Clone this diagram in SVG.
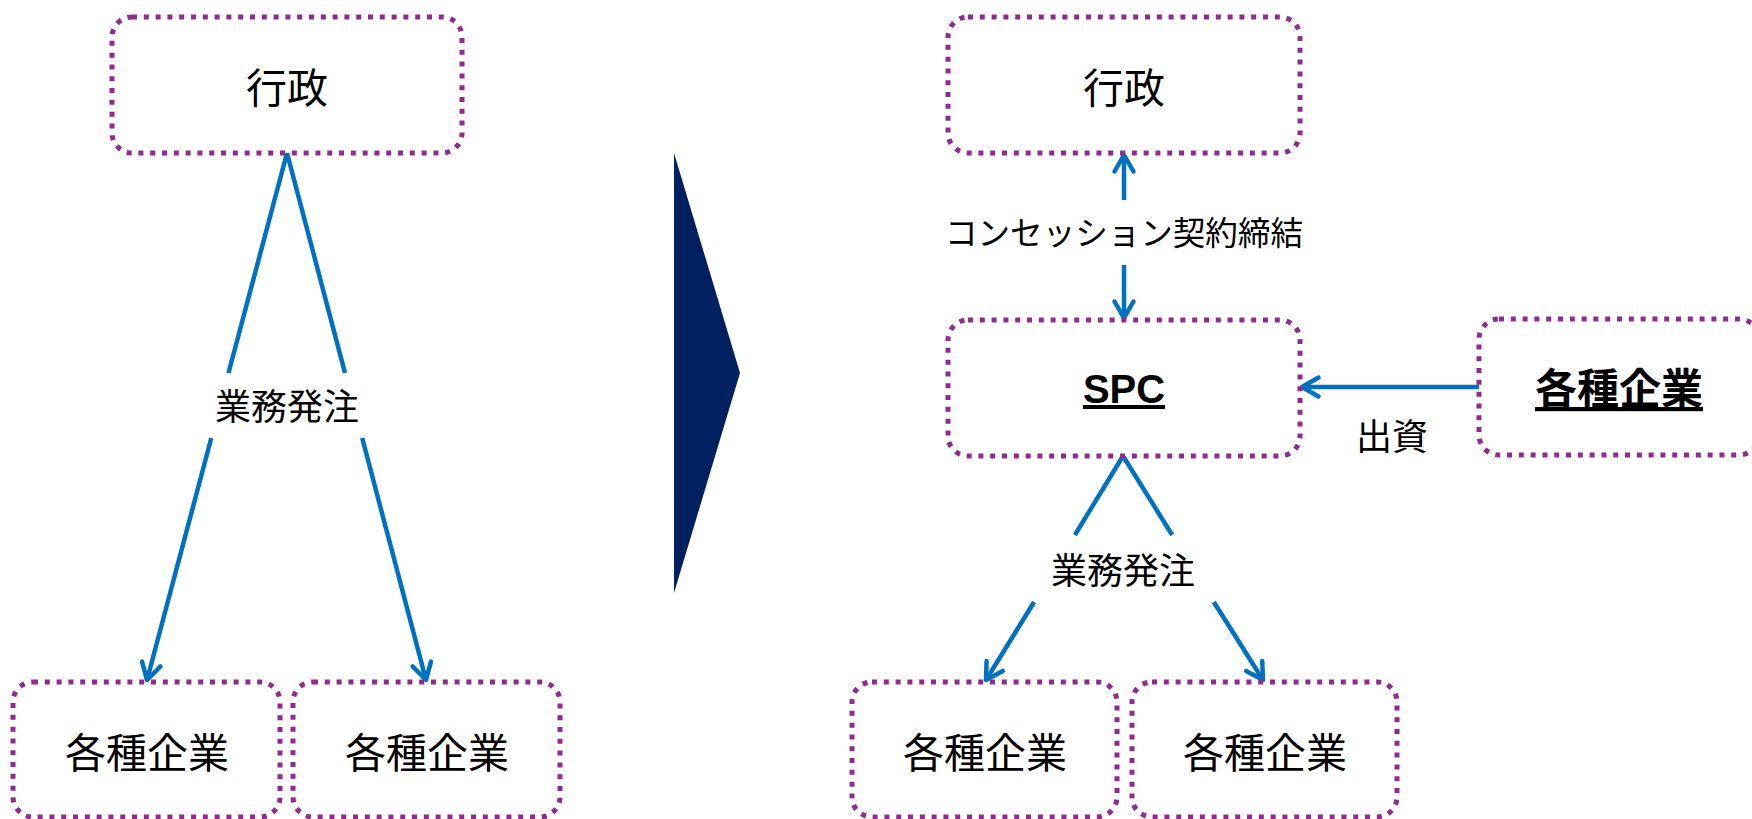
<svg xmlns="http://www.w3.org/2000/svg" width="1752" height="819" viewBox="0 0 1752 819">
  <style>
    .box { fill: #ffffff; stroke: #912A8E; stroke-width: 5; stroke-dasharray: 5 6.8; }
    .t { font-family: "Noto Sans CJK JP", "Liberation Sans", sans-serif; fill: #000000; text-anchor: middle; }
    .big { font-size: 41px; }
    .lbl { font-size: 36px; }
    .b { font-weight: bold; text-decoration: underline; }
    .spc { font-family: "Liberation Sans", Arial, sans-serif; font-size: 40px; font-weight: bold; text-decoration: underline; text-anchor: middle; fill: #000000; }
    .ln { fill: none; stroke: #0070C0; stroke-width: 4.5; stroke-linecap: butt; }
  </style>
  <defs>
    <marker id="ah" markerUnits="userSpaceOnUse" markerWidth="40" markerHeight="40" viewBox="-20 -20 40 40" refX="0" refY="0" orient="auto" overflow="visible">
      <path d="M -16.5,-9.5 L 0,0 L -16.5,9.5" fill="none" stroke="#0070C0" stroke-width="4.5" stroke-linecap="round" stroke-linejoin="round"/>
    </marker>
  </defs>
  <rect width="1752" height="819" fill="#ffffff"/>

  <!-- big transition arrow -->
  <polygon id="transition" points="674,153 740,373 674,593" fill="#002060"/>

  <!-- connectors -->
  <g id="connectors">
    <line class="ln" x1="287" y1="153" x2="228.5" y2="373"/>
    <line class="ln" x1="211.3" y1="438" x2="147" y2="680" marker-end="url(#ah)"/>
    <line class="ln" x1="287" y1="153" x2="345" y2="373"/>
    <line class="ln" x1="362.2" y1="438" x2="426" y2="680" marker-end="url(#ah)"/>
    <line class="ln" x1="1124" y1="200" x2="1124" y2="155" marker-end="url(#ah)"/>
    <line class="ln" x1="1124" y1="265" x2="1124" y2="318" marker-end="url(#ah)"/>
    <line class="ln" x1="1479" y1="387" x2="1302" y2="387" marker-end="url(#ah)"/>
    <line class="ln" x1="1123" y1="456" x2="1074.9" y2="535"/>
    <line class="ln" x1="1034.1" y1="602" x2="986" y2="680" marker-end="url(#ah)"/>
    <line class="ln" x1="1123" y1="456" x2="1172.2" y2="535"/>
    <line class="ln" x1="1213.8" y1="602" x2="1263" y2="680" marker-end="url(#ah)"/>
    <text class="t lbl" x="287" y="420">業務発注</text>
    <text class="t lbl" x="1123" y="584">業務発注</text>
    <text class="t" x="1124" y="245" font-size="33" textLength="358" lengthAdjust="spacingAndGlyphs">コンセッション契約締結</text>
    <text class="t lbl" x="1392" y="450">出資</text>
  </g>

  <g id="gyosei-left">
    <rect class="box" x="112" y="17" width="350" height="136" rx="20"/>
    <text class="t big" x="287" y="103">行政</text>
  </g>
  <g id="kigyo-left-1">
    <rect class="box" x="13" y="682" width="267" height="135" rx="20"/>
    <text class="t big" x="147" y="768">各種企業</text>
  </g>
  <g id="kigyo-left-2">
    <rect class="box" x="293" y="682" width="267" height="135" rx="20"/>
    <text class="t big" x="427" y="768">各種企業</text>
  </g>

  <g id="gyosei-right">
    <rect class="box" x="948" y="17" width="352" height="136" rx="20"/>
    <text class="t big" x="1124" y="103">行政</text>
  </g>
  <g id="spc">
    <rect class="box" x="948" y="320" width="352" height="136" rx="20"/>
    <text class="spc" x="1124" y="403">SPC</text>
  </g>
  <g id="kigyo-investor">
    <rect class="box" x="1479" y="319" width="280" height="136" rx="20"/>
    <text class="t b" x="1619" y="404" font-size="42">各種企業</text>
  </g>
  <g id="kigyo-right-1">
    <rect class="box" x="852" y="682" width="265" height="135" rx="20"/>
    <text class="t big" x="985" y="768">各種企業</text>
  </g>
  <g id="kigyo-right-2">
    <rect class="box" x="1132" y="682" width="265" height="135" rx="20"/>
    <text class="t big" x="1265" y="768">各種企業</text>
  </g>
</svg>
